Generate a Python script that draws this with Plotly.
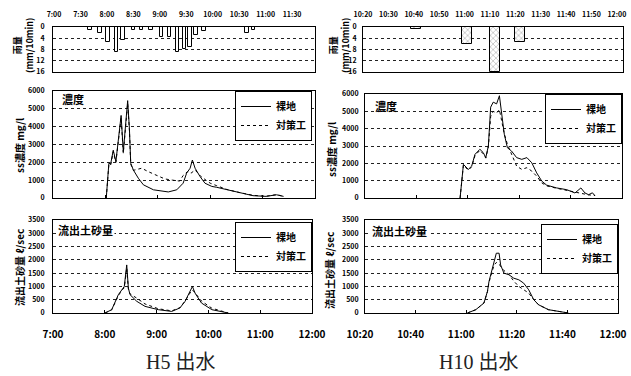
import plotly.graph_objects as go
import pandas as pd

# ---------------- DATA ----------------
# H5 event: times in minutes after 7:00
h5_rain_t = [41, 52, 61, 71, 78, 90, 99, 110, 122, 131, 140, 148, 154, 161, 170, 219, 226]
h5_rain = [1, 2.3, 5.3, 9, 4.7, 1, 1, 1, 3.5, 3.5, 9, 7.8, 7, 3, 1.5, 2, 1]

h5_conc_bare_t = [61, 64, 66, 69, 72, 74, 76, 78, 80.5, 83, 85.5, 87.5, 89, 92, 97.7, 103.5, 115, 132,
                  141.7, 149, 153, 157, 159.6, 162.7, 168.4, 174, 181.8, 187.5, 199, 214, 229, 244, 256, 264]
h5_conc_bare = [0, 1950, 1900, 2680, 2040, 3000, 3700, 4630, 2590, 3890, 5460, 3890, 1950, 1570, 1110, 740, 460, 340,
                460, 830, 1390, 1670, 2130, 1670, 1200, 830, 650, 600, 460, 280, 130, 90, 180, 90]
h5_conc_ctrl_t = [61, 64, 66, 69, 72, 74, 76, 78, 80.5, 83, 85.5, 87.5, 89, 92, 96, 101.6, 109, 118.8, 128, 137,
                  145, 149, 154, 158, 162.7, 169.5, 174, 180, 187, 199, 214, 229, 244, 256, 264]
h5_conc_ctrl = [0, 1900, 1850, 2600, 2000, 2900, 3600, 4500, 2500, 3800, 5300, 3800, 1900, 1550, 1600, 1670, 1480, 1260, 1070, 1000,
                950, 1260, 1480, 1390, 1570, 1200, 1020, 830, 700, 480, 300, 150, 100, 190, 90]

h5_sed_t = [60.3, 68, 75.7, 79.6, 82.6, 85.4, 87.3, 89.2, 97, 106.6, 122, 137.5, 147, 153, 158.7, 161.5, 164.5, 172, 184, 195, 203]
h5_sed_bare = [0, 125, 690, 875, 1000, 1810, 940, 690, 440, 250, 125, 60, 190, 440, 810, 1000, 750, 375, 125, 50, 0]
h5_sed_ctrl = [0, 120, 650, 850, 950, 1700, 900, 720, 560, 340, 160, 80, 200, 450, 750, 870, 760, 450, 180, 60, 0]

# H10 event: times in minutes after 10:20
h10_rain_t = [21, 41, 52, 62]
h10_rain = [0.7, 6, 16, 5.5]

h10_conc_bare_t = [37, 38.3, 40.2, 41.5, 42.8, 44.7, 46, 47, 48, 48.9, 49.9, 51.2, 52.3, 53.2, 54.2, 55.4, 57, 59, 61, 63,
                   64.9, 66.8, 68.8, 70.7, 74.6, 78.5, 81.7, 84.0, 85.6, 87, 88.5, 89.5]
h10_conc_bare = [0, 1940, 1650, 1840, 2520, 2810, 2620, 2330, 3000, 5240, 5530, 5430, 5900, 4840, 3680, 2900, 2710, 2330, 2230, 2330,
                 2030, 1450, 970, 740, 580, 480, 290, 580, 290, 190, 300, 120]
h10_conc_ctrl_t = [37, 38.3, 40.2, 41.5, 42.8, 44.7, 46, 47, 48, 48.9, 49.9, 51.2, 52.3, 53.2, 54.2, 55.4, 57, 59, 61, 63,
                   64.9, 66.8, 68.8, 70.7, 74.6, 78.5, 81.7, 84.3, 87, 89.5]
h10_conc_ctrl = [0, 1900, 1600, 1800, 2450, 2750, 2550, 2300, 2950, 4700, 5000, 4900, 5100, 4500, 3700, 3100, 2520, 1840, 1650, 1750,
                 1550, 1260, 870, 700, 560, 450, 330, 250, 180, 150]

h10_sed_t = [40.5, 43.8, 47, 48.4, 49, 50, 51, 51.9, 53, 53.6, 54.9, 56.9, 58.8, 60.8, 62.7, 64.7, 66.7, 68.6, 72.5, 76.5, 80.4]
h10_sed_bare = [0, 125, 375, 810, 1185, 1560, 1875, 2250, 2250, 1810, 1500, 1440, 1310, 1250, 1125, 875, 500, 310, 125, 50, 0]
h10_sed_ctrl = [0, 125, 375, 800, 1150, 1500, 1800, 1900, 1850, 1750, 1600, 1450, 1200, 1000, 870, 750, 500, 310, 125, 50, 0]

series_names = ["裸地", "対策工"]
captions = ["H5 出水", "H10 出水"]

# ---------------- HELPERS ----------------
BASE = pd.Timestamp("2000-01-01")
H5_0 = BASE + pd.Timedelta(hours=7)
H10_0 = BASE + pd.Timedelta(hours=10, minutes=20)


def tt(t0, mins):
    return [t0 + pd.Timedelta(minutes=m) for m in mins]


def ts(h, m, s=0):
    return (BASE + pd.Timedelta(hours=h, minutes=m, seconds=s)).strftime("%Y-%m-%d %H:%M:%S")


W, H = 631, 376


def dx(a, b):
    return [a / W, b / W]


def dy(top, bot):
    return [1 - bot / H, 1 - top / H]


FONT = "Noto Sans CJK JP, DejaVu Sans"
tickf = dict(family=FONT, size=7, color="black", weight="bold")

fig = go.Figure()

solid = dict(color="black", width=1)
dashed = dict(color="black", width=1, dash="dot")

# rain
fig.add_trace(go.Bar(x=tt(H5_0, h5_rain_t), y=h5_rain, width=4 * 60000, xaxis="x", yaxis="y",
                     marker=dict(color="white", line=dict(color="black", width=1)), showlegend=False))
fig.add_trace(go.Bar(x=tt(H10_0, h10_rain_t), y=h10_rain, width=4 * 60000, xaxis="x2", yaxis="y2",
                     marker=dict(color="white", line=dict(color="black", width=1),
                                 pattern=dict(shape="x", fgcolor="#666", bgcolor="white", size=4, solidity=0.3)),
                     showlegend=False))

# concentration
fig.add_trace(go.Scatter(x=tt(H5_0, h5_conc_ctrl_t), y=h5_conc_ctrl, mode="lines", line=dashed, name=series_names[1],
                         xaxis="x3", yaxis="y3", legend="legend", legendrank=2))
fig.add_trace(go.Scatter(x=tt(H5_0, h5_conc_bare_t), y=h5_conc_bare, mode="lines", line=solid, name=series_names[0],
                         xaxis="x3", yaxis="y3", legend="legend", legendrank=1))
fig.add_trace(go.Scatter(x=tt(H10_0, h10_conc_ctrl_t), y=h10_conc_ctrl, mode="lines", line=dashed, name=series_names[1],
                         xaxis="x4", yaxis="y4", legend="legend2", legendrank=2))
fig.add_trace(go.Scatter(x=tt(H10_0, h10_conc_bare_t), y=h10_conc_bare, mode="lines", line=solid, name=series_names[0],
                         xaxis="x4", yaxis="y4", legend="legend2", legendrank=1))
# sediment
fig.add_trace(go.Scatter(x=tt(H5_0, h5_sed_t), y=h5_sed_ctrl, mode="lines", line=dashed, name=series_names[1],
                         xaxis="x5", yaxis="y5", legend="legend3", legendrank=2))
fig.add_trace(go.Scatter(x=tt(H5_0, h5_sed_t), y=h5_sed_bare, mode="lines", line=solid, name=series_names[0],
                         xaxis="x5", yaxis="y5", legend="legend3", legendrank=1))
fig.add_trace(go.Scatter(x=tt(H10_0, h10_sed_t), y=h10_sed_ctrl, mode="lines", line=dashed, name=series_names[1],
                         xaxis="x6", yaxis="y6", legend="legend4", legendrank=2))
fig.add_trace(go.Scatter(x=tt(H10_0, h10_sed_t), y=h10_sed_bare, mode="lines", line=solid, name=series_names[0],
                         xaxis="x6", yaxis="y6", legend="legend4", legendrank=1))

box = dict(showline=True, linecolor="black", linewidth=1, mirror=True, zeroline=False, automargin=False)
ygrid = dict(showgrid=True, gridcolor="#222", gridwidth=1, griddash="dot")

L = (53, 315)
R = (365, 622)
btick = dict(family=FONT, size=10, color="black", weight="bold")

layout = dict(
    width=W, height=H, margin=dict(l=0, r=0, t=0, b=0),
    paper_bgcolor="white", plot_bgcolor="white",
    font=dict(family=FONT, color="black", size=9),
    bargap=0,
    # rain axes
    xaxis=dict(domain=dx(53, 315), anchor="y", type="date", side="top",
               range=[ts(6, 58, 50), ts(11, 56)], tick0=ts(7, 0), dtick=30 * 60000, tickformat="%-H:%M",
               showgrid=False, ticks="", tickfont=tickf, ticklabelstandoff=6, ticklabeloverflow="allow", **box),
    yaxis=dict(domain=dy(27, 72), anchor="x", range=[16, 0], tickvals=[0, 4, 8, 12, 16],
               tickfont=tickf, ticks="", ticklabelstandoff=6, **ygrid, **box),
    xaxis2=dict(domain=dx(363, 623), anchor="y2", type="date", side="top",
                range=[ts(10, 20), ts(12, 2, 25)], tick0=ts(10, 20), dtick=10 * 60000, tickformat="%-H:%M",
                showgrid=False, ticks="", tickfont=tickf, ticklabelstandoff=6, ticklabeloverflow="allow", **box),
    yaxis2=dict(domain=dy(27, 72), anchor="x2", range=[16, 0], tickvals=[0, 4, 8, 12, 16],
                tickfont=tickf, ticks="", ticklabelstandoff=4, **ygrid, **box),
    # concentration
    xaxis3=dict(domain=dx(*L), anchor="y3", type="date", range=[ts(7, 0), ts(12, 0)],
                tick0=ts(7, 0), dtick=3600000, showticklabels=False, showgrid=False,
                ticks="inside", ticklen=3, tickcolor="black", **box),
    yaxis3=dict(domain=dy(91, 198), anchor="x3", range=[0, 6000], dtick=1000,
                tickfont=tickf, ticks="", ticklabelstandoff=6, **ygrid, **box),
    xaxis4=dict(domain=dx(*R), anchor="y4", type="date", range=[ts(10, 20), ts(12, 0)],
                tick0=ts(10, 20), dtick=20 * 60000, showticklabels=False, showgrid=False,
                ticks="inside", ticklen=3, tickcolor="black", **box),
    yaxis4=dict(domain=dy(94, 198), anchor="x4", range=[0, 6000], dtick=1000,
                tickfont=tickf, ticks="", ticklabelstandoff=4, **ygrid, **box),
    # sediment
    xaxis5=dict(domain=dx(53, 312), anchor="y5", type="date", range=[ts(7, 0), ts(12, 0)],
                tick0=ts(7, 0), dtick=3600000, tickformat="%-H:%M", showgrid=False,
                ticks="inside", ticklen=3, tickcolor="black",
                tickfont=btick, ticklabelstandoff=12, ticklabeloverflow="allow", **box),
    yaxis5=dict(domain=dy(220, 313), anchor="x5", range=[0, 3500], dtick=500,
                tickfont=tickf, ticks="", ticklabelstandoff=6, **ygrid, **box),
    xaxis6=dict(domain=dx(365, 618), anchor="y6", type="date", range=[ts(10, 20), ts(12, 0)],
                tick0=ts(10, 20), dtick=20 * 60000, tickformat="%-H:%M", showgrid=False,
                ticks="inside", ticklen=3, tickcolor="black",
                tickfont=btick, ticklabelstandoff=12, ticklabelshift=-5, ticklabeloverflow="allow", **box),
    yaxis6=dict(domain=dy(220, 313), anchor="x6", range=[0, 3500], dtick=500,
                tickfont=tickf, ticks="", ticklabelstandoff=4, **ygrid, **box),
)

legfont = dict(family=FONT, size=10, color="black", weight="bold")
legbase = dict(xanchor="right", yanchor="top", bgcolor="white", bordercolor="black", borderwidth=1,
               font=legfont, tracegroupgap=0, itemwidth=30, traceorder="normal")
layout["legend"] = dict(x=312 / W, y=1 - 91 / H, **legbase)
layout["legend2"] = dict(x=622 / W, y=1 - 94 / H, **legbase)
layout["legend3"] = dict(x=312 / W, y=1 - 222 / H, **legbase)
layout["legend4"] = dict(x=618 / W, y=1 - 224 / H, **legbase)

fig.update_layout(**layout)


def ann(text, px, py, size=10, angle=0, xanchor="center", bg=None, family=FONT, weight="bold", color="black"):
    d = dict(text=text, x=px / W, y=1 - py / H, xref="paper", yref="paper", showarrow=False,
             textangle=angle, xanchor=xanchor, yanchor="middle",
             font=dict(family=family, size=size, color=color, weight=weight))
    if bg:
        d["bgcolor"] = bg
    fig.add_annotation(**d)


# axis titles
ann("雨量<br>(mm/10min)", 23, 46, size=9, angle=-90)
ann("雨量<br>(mm/10min)", 339, 46, size=9, angle=-90)
ann("ss濃度 mg/l", 19, 146, size=10, angle=-90)
ann("ss濃度 mg/l", 331, 150, size=10, angle=-90)
ann("流出土砂量 ℓ/sec", 19, 268, size=10, angle=-90)
ann("流出土砂量 ℓ/sec", 329, 270, size=10, angle=-90)

# in-plot titles
ann("濃度", 60, 99, size=11, xanchor="left")
ann("濃度", 373, 106, size=11, xanchor="left")
ann("流出土砂量", 56, 230, size=11, xanchor="left", bg="white")
ann("流出土砂量", 370, 231, size=11, xanchor="left", bg="white")

# captions
ann(captions[0], 180, 362, size=20, family="Liberation Serif, Noto Sans CJK JP", weight="normal", color="#222")
ann(captions[1], 478, 362, size=20, family="Liberation Serif, Noto Sans CJK JP", weight="normal", color="#222")

fig.write_html("out.html")
